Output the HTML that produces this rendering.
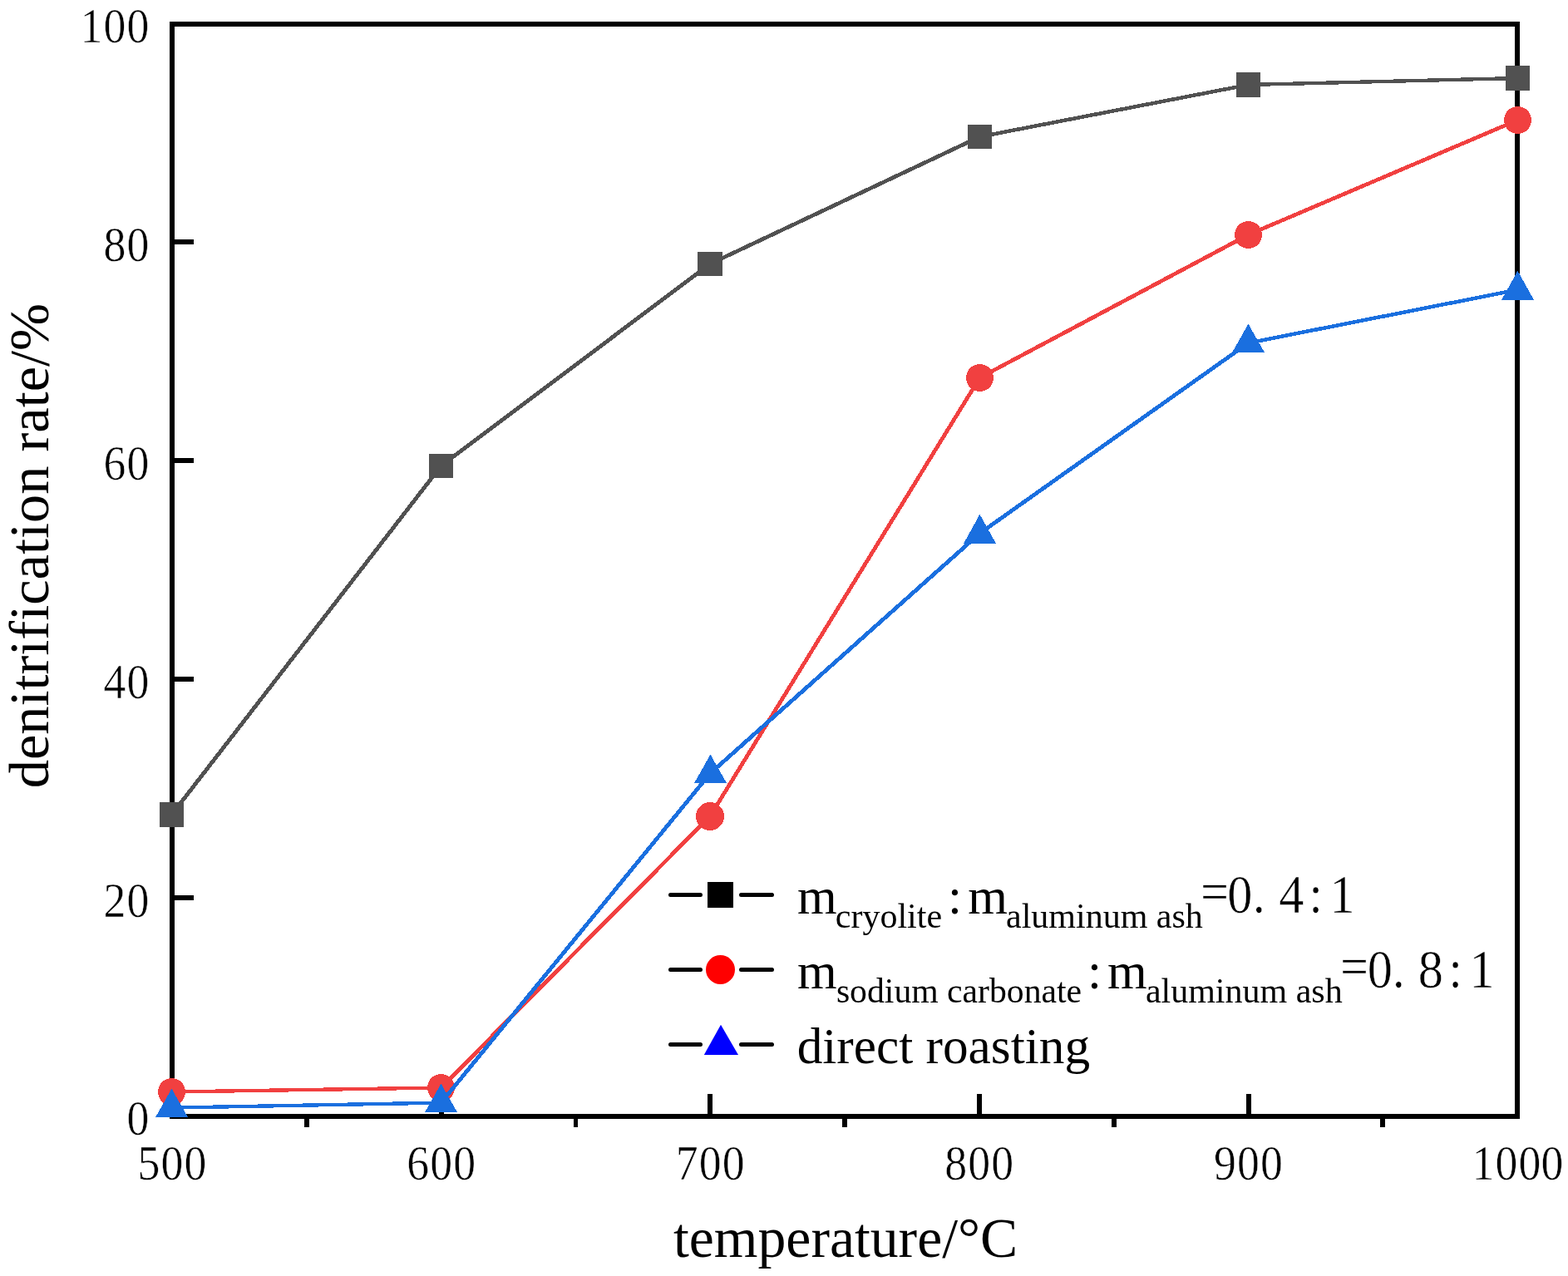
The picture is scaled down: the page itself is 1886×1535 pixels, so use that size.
<!DOCTYPE html>
<html lang="en">
<head>
<meta charset="utf-8">
<title>Denitrification rate vs temperature</title>
<style>
html,body{margin:0;padding:0;background:#fff;}
body{width:1886px;height:1535px;overflow:hidden;}
svg{display:block;}
text{font-family:"Liberation Serif","Times New Roman",Times,serif;fill:#000;}
.tick{font-size:58.5px;text-anchor:middle;stroke:#fff;stroke-width:0.55px;}
.title{font-size:68px;}
.leg{font-size:61.3px;}
.sub{font-size:42px;}
.dig{font-size:64.5px;text-anchor:middle;stroke:#fff;stroke-width:0.55px;}
</style>
</head>
<body>
<svg width="1886" height="1535" viewBox="0 0 1886 1535">
<rect x="0" y="0" width="1886" height="1535" fill="#ffffff"/>
<g id="axes" fill="#000" shape-rendering="crispEdges">
<rect x="204" y="26" width="1624" height="6"/>
<rect x="204" y="1340" width="1624" height="6"/>
<rect x="204" y="26" width="6" height="1320"/>
<rect x="1822" y="26" width="6" height="1320"/>
<rect x="204" y="288" width="29" height="6"/>
<rect x="204" y="551" width="29" height="6"/>
<rect x="204" y="814" width="29" height="6"/>
<rect x="204" y="1077" width="29" height="6"/>
<rect x="528" y="1316" width="6" height="27"/>
<rect x="851" y="1316" width="6" height="27"/>
<rect x="1175" y="1316" width="6" height="27"/>
<rect x="1499" y="1316" width="6" height="27"/>
<rect x="366" y="1343" width="6" height="13"/>
<rect x="690" y="1343" width="5" height="13"/>
<rect x="1013" y="1343" width="6" height="13"/>
<rect x="1337" y="1343" width="6" height="13"/>
<rect x="1660" y="1343" width="6" height="13"/>
</g>
<g id="series" shape-rendering="crispEdges">
<g stroke="#515151" fill="none"><line x1="206.5" y1="980.0" x2="530.5" y2="560.5" stroke-width="4.81"/><line x1="530.5" y1="560.5" x2="854.0" y2="317.5" stroke-width="4.81"/><line x1="854.0" y1="317.5" x2="1178.5" y2="164.5" stroke-width="4.72"/><line x1="1178.5" y1="164.5" x2="1501.5" y2="102.0" stroke-width="4.52"/><line x1="1501.5" y1="102.0" x2="1825.5" y2="94.0" stroke-width="4.35"/></g>
<rect x="192" y="965" width="29" height="30" fill="#515151"/>
<rect x="516" y="546" width="29" height="29" fill="#515151"/>
<rect x="839" y="303" width="30" height="29" fill="#515151"/>
<rect x="1164" y="150" width="29" height="29" fill="#515151"/>
<rect x="1487" y="87" width="29" height="30" fill="#515151"/>
<rect x="1811" y="79" width="29" height="30" fill="#515151"/>
<g stroke="#F14040" fill="none"><line x1="206.5" y1="1313.5" x2="530.5" y2="1308.5" stroke-width="4.35"/><line x1="530.5" y1="1308.5" x2="854.0" y2="982.0" stroke-width="4.83"/><line x1="854.0" y1="982.0" x2="1178.5" y2="454.4" stroke-width="4.78"/><line x1="1178.5" y1="454.4" x2="1501.5" y2="282.4" stroke-width="4.74"/><line x1="1501.5" y1="282.4" x2="1825.5" y2="144.4" stroke-width="4.69"/></g>
<circle cx="206.5" cy="1313.5" r="16.5" fill="#F14040"/>
<circle cx="530.5" cy="1308.5" r="16.5" fill="#F14040"/>
<circle cx="854.0" cy="982.0" r="17.0" fill="#F14040"/>
<circle cx="1178.5" cy="454.5" r="16.5" fill="#F14040"/>
<circle cx="1501.5" cy="282.5" r="16.5" fill="#F14040"/>
<circle cx="1825.5" cy="144.5" r="16.5" fill="#F14040"/>
<g stroke="#1A6FDF" fill="none"><line x1="206.5" y1="1332.6" x2="530.5" y2="1326.6" stroke-width="4.35"/><line x1="530.5" y1="1326.6" x2="854.0" y2="930.6" stroke-width="4.82"/><line x1="854.0" y1="930.6" x2="1178.5" y2="641.6" stroke-width="4.83"/><line x1="1178.5" y1="641.6" x2="1501.5" y2="412.6" stroke-width="4.80"/><line x1="1501.5" y1="412.6" x2="1825.5" y2="348.6" stroke-width="4.52"/></g>
<polygon points="206.5,1309.7 226,1344 187,1344" fill="#1A6FDF"/>
<polygon points="530.5,1303.7 550,1338 511,1338" fill="#1A6FDF"/>
<polygon points="854.5,907.7 874,942 835,942" fill="#1A6FDF"/>
<polygon points="1178.5,618.7 1198,654 1159,654" fill="#1A6FDF"/>
<polygon points="1501.5,389.7 1521,424 1482,424" fill="#1A6FDF"/>
<polygon points="1825.5,325.7 1845,361 1806,361" fill="#1A6FDF"/>
</g>
<g id="ylabels">
<text class="tick" transform="scale(0.92,1)" x="119.57 150 180.43" y="50.8">100</text>
<text class="tick" transform="scale(0.92,1)" x="150 180.43" y="313.8">80</text>
<text class="tick" transform="scale(0.92,1)" x="150 180.43" y="576.8">60</text>
<text class="tick" transform="scale(0.92,1)" x="150 180.43" y="839.8">40</text>
<text class="tick" transform="scale(0.92,1)" x="150 180.43" y="1102.6">20</text>
<text class="tick" transform="scale(0.92,1)" x="180.43" y="1364.8">0</text>
</g>
<g id="xlabels">
<text class="tick" transform="scale(0.92,1)" x="194.57 225 255.43" y="1419.2">500</text>
<text class="tick" transform="scale(0.92,1)" x="546.3 576.74 607.17" y="1419.2">600</text>
<text class="tick" transform="scale(0.92,1)" x="898.04 928.48 958.91" y="1419.2">700</text>
<text class="tick" transform="scale(0.92,1)" x="1249.78 1280.22 1310.65" y="1419.2">800</text>
<text class="tick" transform="scale(0.92,1)" x="1601.52 1631.96 1662.39" y="1419.2">900</text>
<text class="tick" transform="scale(0.92,1)" x="1939.13 1969.46 1999.89 2029.24" y="1419.2">1000</text>
</g>
<text class="title" style="font-size:67.7px" x="810" y="1512">temperature/°C</text>
<text class="title" style="font-size:68.45px" transform="translate(58.3,948.3) rotate(-90)">denitrification rate/%</text>
<g id="legend">
<path d="M806.5 1076.5H842.5M891.5 1076.5H928.5" stroke="#000" stroke-width="5" stroke-linecap="round" fill="none"/>
<path d="M806.5 1166.5H842.5M891.5 1166.5H928.5" stroke="#000" stroke-width="5" stroke-linecap="round" fill="none"/>
<path d="M806.5 1256.5H842.5M891.5 1256.5H928.5" stroke="#000" stroke-width="5" stroke-linecap="round" fill="none"/>
<rect x="851" y="1061" width="31" height="31" fill="#000" shape-rendering="crispEdges"/>
<circle cx="866.5" cy="1166.5" r="17.5" fill="#FF0000"/>
<polygon points="867,1232.7 888,1269 846.8,1269" fill="#0000FF"/>
<text class="leg" x="959" y="1099">m<tspan class="sub" x="1004.8" y="1116.2">cryolite</tspan><tspan x="1140" y="1099">:</tspan><tspan x="1164.2" y="1099">m</tspan><tspan class="sub" x="1210" y="1116.2">aluminum ash</tspan></text>
<text class="dig" transform="scale(0.935,1)" x="1562.57 1594.97 1619.57 1661.23 1692.62 1726.74" y="1098.5" dy="-3 3 0 0 0 0">=0.4:1</text>
<text class="leg" x="959" y="1189">m<tspan class="sub" style="font-size:41.7px" x="1005.9" y="1206.2">sodium carbonate</tspan><tspan x="1308" y="1189">:</tspan><tspan x="1332" y="1189">m</tspan><tspan class="sub" x="1377.9" y="1206.2">aluminum ash</tspan></text>
<text class="dig" transform="scale(0.935,1)" x="1742.25 1775.19 1799.25 1840.53 1872.3 1906.42" y="1188.5" dy="-3 3 0 0 0 0">=0.8:1</text>
<text class="leg" x="958.7" y="1279">direct roasting</text>
</g>
</svg>
</body>
</html>
